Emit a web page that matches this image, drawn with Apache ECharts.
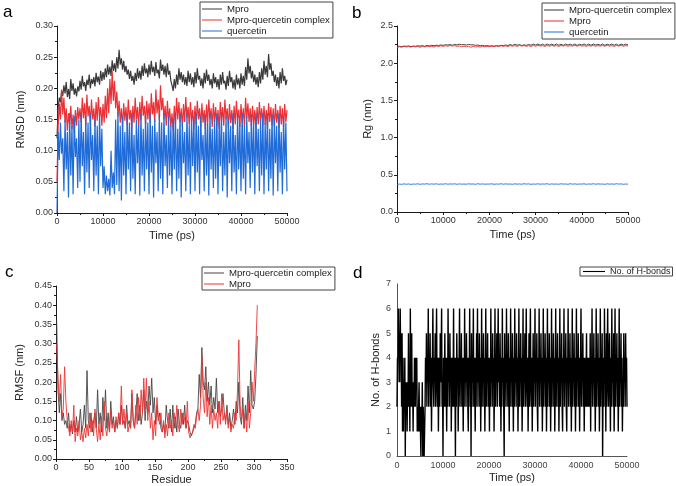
<!DOCTYPE html>
<html>
<head>
<meta charset="utf-8">
<script src="https://cdn.jsdelivr.net/npm/echarts@6/dist/echarts.min.js"></script>
<style>html,body{margin:0;padding:0;background:#fff}#c{width:676px;height:486px}</style>
</head>
<body>
<div id="c"></div>
<script>
// ---- Panel a: RMSD (nm), 0..50000 ps ----
const rmsdMpro = [
0.120,0.168,0.185,0.178,0.196,0.188,0.205,0.192,0.210,0.186,0.199,0.183,0.215,0.196,0.208,0.190,0.200,0.187,0.203,0.195,
0.212,0.198,0.220,0.203,0.210,0.196,0.214,0.205,0.222,0.200,0.215,0.207,0.218,0.203,0.225,0.210,0.219,0.206,0.228,0.212,
0.226,0.214,0.232,0.218,0.238,0.222,0.235,0.220,0.245,0.228,0.240,0.226,0.250,0.232,0.262,0.238,0.248,0.230,0.244,0.226,
0.236,0.222,0.230,0.215,0.228,0.212,0.220,0.206,0.225,0.212,0.232,0.216,0.228,0.214,0.236,0.220,0.240,0.224,0.232,0.218,
0.238,0.222,0.244,0.226,0.235,0.220,0.242,0.224,0.230,0.216,0.246,0.228,0.238,0.222,0.236,0.218,0.240,0.222,0.228,0.212,
0.205,0.196,0.215,0.200,0.222,0.206,0.232,0.214,0.226,0.210,0.222,0.206,0.218,0.204,0.228,0.210,0.224,0.206,0.218,0.202,
0.226,0.208,0.232,0.214,0.220,0.204,0.216,0.200,0.225,0.208,0.230,0.212,0.222,0.205,0.215,0.200,0.224,0.208,0.218,0.202,
0.215,0.198,0.222,0.206,0.226,0.208,0.212,0.198,0.220,0.204,0.228,0.210,0.218,0.200,0.214,0.198,0.222,0.206,0.216,0.200,
0.224,0.206,0.220,0.204,0.234,0.214,0.248,0.224,0.236,0.216,0.228,0.210,0.222,0.206,0.218,0.202,0.226,0.208,0.232,0.214,
0.244,0.222,0.236,0.218,0.255,0.230,0.240,0.220,0.228,0.210,0.222,0.204,0.218,0.200,0.226,0.208,0.232,0.212,0.220,0.205,0.214];
const rmsdComplex = [
0.050,0.140,0.175,0.150,0.198,0.158,0.185,0.145,0.168,0.132,0.160,0.142,0.172,0.135,0.158,0.128,0.165,0.140,0.170,0.150,
0.168,0.145,0.185,0.152,0.176,0.140,0.190,0.155,0.172,0.142,0.182,0.150,0.168,0.138,0.178,0.148,0.186,0.155,0.170,0.140,
0.175,0.145,0.188,0.152,0.200,0.160,0.215,0.175,0.228,0.180,0.212,0.168,0.195,0.155,0.180,0.145,0.168,0.138,0.176,0.148,
0.170,0.140,0.182,0.150,0.165,0.135,0.172,0.145,0.185,0.150,0.170,0.138,0.178,0.148,0.188,0.156,0.172,0.142,0.180,0.150,
0.176,0.145,0.192,0.158,0.178,0.146,0.198,0.160,0.182,0.150,0.205,0.165,0.185,0.150,0.172,0.140,0.180,0.148,0.168,0.138,
0.160,0.132,0.172,0.142,0.185,0.150,0.178,0.145,0.168,0.138,0.175,0.146,0.186,0.152,0.170,0.140,0.178,0.148,0.165,0.135,
0.172,0.142,0.180,0.150,0.168,0.138,0.176,0.145,0.165,0.134,0.174,0.145,0.182,0.150,0.168,0.138,0.176,0.146,0.170,0.140,
0.165,0.135,0.178,0.148,0.170,0.140,0.182,0.150,0.168,0.136,0.175,0.144,0.165,0.135,0.172,0.142,0.180,0.150,0.166,0.138,
0.175,0.145,0.168,0.138,0.185,0.152,0.176,0.146,0.168,0.138,0.172,0.142,0.165,0.135,0.170,0.142,0.178,0.148,0.168,0.140,
0.172,0.142,0.165,0.136,0.176,0.146,0.170,0.140,0.168,0.138,0.175,0.145,0.165,0.136,0.172,0.142,0.168,0.138,0.175,0.146,0.165];
const rmsdQuercetin = [
0.000,0.130,0.085,0.145,0.095,0.120,0.035,0.150,0.070,0.130,0.025,0.160,0.060,0.140,0.030,0.155,0.090,0.120,0.040,0.150,
0.050,0.160,0.075,0.130,0.030,0.155,0.065,0.145,0.040,0.160,0.085,0.125,0.035,0.150,0.060,0.140,0.030,0.158,0.075,0.135,
0.040,0.075,0.030,0.060,0.035,0.055,0.028,0.100,0.040,0.065,0.030,0.150,0.045,0.162,0.035,0.140,0.020,0.155,0.060,0.130,
0.030,0.158,0.070,0.145,0.035,0.160,0.055,0.125,0.030,0.150,0.080,0.140,0.028,0.160,0.060,0.135,0.035,0.155,0.070,0.145,
0.030,0.160,0.065,0.140,0.025,0.150,0.080,0.130,0.035,0.158,0.055,0.145,0.030,0.160,0.075,0.125,0.040,0.155,0.060,0.140,
0.030,0.150,0.070,0.160,0.035,0.135,0.055,0.158,0.025,0.145,0.080,0.130,0.035,0.160,0.060,0.140,0.030,0.155,0.075,0.150,
0.035,0.160,0.065,0.140,0.030,0.155,0.085,0.125,0.035,0.158,0.060,0.145,0.028,0.160,0.070,0.135,0.040,0.150,0.055,0.160,
0.030,0.145,0.075,0.160,0.035,0.130,0.060,0.155,0.025,0.150,0.080,0.140,0.035,0.160,0.065,0.125,0.030,0.158,0.070,0.145,
0.035,0.160,0.055,0.140,0.030,0.155,0.080,0.130,0.040,0.158,0.065,0.145,0.030,0.160,0.075,0.135,0.035,0.150,0.060,0.160,
0.030,0.145,0.070,0.160,0.035,0.135,0.055,0.158,0.028,0.150,0.080,0.140,0.035,0.160,0.065,0.130,0.030,0.155,0.070,0.145,0.035];

// ---- Panel b: Rg (nm) ----
const rgComplex = [2.225,2.228,2.222,2.230,2.226,2.232,2.224,2.229,2.227,2.234,2.230,2.236,2.228,2.238,2.232,2.240,2.235,2.242,2.238,2.245,2.240,2.248,2.244,2.250,2.242,2.252,2.246,2.255,2.248,2.250,2.244,2.252,2.246,2.248,2.240,2.244,2.236,2.240,2.232,2.236,2.230,2.234,2.228,2.236,2.232,2.240,2.236,2.244,2.238,2.250,2.240,2.255,2.242,2.250,2.238,2.246,2.240,2.252,2.242,2.256,2.244,2.258,2.242,2.255,2.240,2.258,2.244,2.256,2.240,2.258,2.242,2.255,2.240,2.258,2.244,2.256,2.242,2.258,2.240,2.255,2.244,2.258,2.242,2.256,2.240,2.258,2.244,2.255,2.242,2.258,2.240,2.256,2.244,2.258,2.242,2.255,2.240,2.258,2.244,2.256,2.246];
const rgMpro = [2.205,2.222,2.215,2.226,2.218,2.224,2.216,2.228,2.220,2.225,2.214,2.226,2.218,2.230,2.222,2.228,2.216,2.232,2.224,2.234,2.226,2.236,2.228,2.238,2.230,2.236,2.226,2.232,2.222,2.230,2.220,2.226,2.214,2.228,2.218,2.224,2.216,2.226,2.220,2.228,2.222,2.230,2.224,2.232,2.222,2.236,2.226,2.234,2.224,2.238,2.228,2.236,2.226,2.240,2.230,2.238,2.226,2.236,2.224,2.238,2.228,2.240,2.230,2.236,2.226,2.238,2.228,2.240,2.230,2.236,2.226,2.238,2.230,2.240,2.228,2.236,2.230,2.238,2.228,2.240,2.230,2.236,2.226,2.238,2.230,2.240,2.228,2.236,2.230,2.238,2.228,2.240,2.230,2.236,2.226,2.238,2.230,2.240,2.228,2.236,2.232];
const rgQuercetin = [0.370,0.375,0.372,0.378,0.373,0.377,0.371,0.376,0.374,0.379,0.372,0.377,0.375,0.380,0.373,0.378,0.374,0.379,0.372,0.376,0.374,0.380,0.373,0.377,0.375,0.379,0.372,0.378,0.374,0.376,0.373,0.379,0.375,0.377,0.372,0.380,0.374,0.378,0.373,0.376,0.375,0.379,0.372,0.377,0.374,0.380,0.373,0.378,0.375,0.376,0.372,0.379,0.374,0.377,0.373,0.380,0.375,0.378,0.372,0.376,0.374,0.379,0.373,0.377,0.375,0.380,0.372,0.378,0.374,0.376,0.373,0.379,0.375,0.377,0.372,0.380,0.374,0.378,0.373,0.376,0.375,0.379,0.372,0.377,0.374,0.380,0.373,0.378,0.375,0.376,0.372,0.379,0.374,0.377,0.373,0.380,0.375,0.378,0.372,0.376,0.374];

// ---- Panel c: RMSF (nm) per residue, residues 1,3,5,...,305 ----
const rmsfComplex = [0.36,0.18,0.12,0.17,0.10,0.12,0.09,0.10,0.08,0.12,0.07,0.09,0.065,0.10,0.07,0.11,0.07,0.09,0.13,0.07,0.09,0.14,0.08,0.23,0.10,0.08,0.12,0.07,0.10,0.12,0.08,0.18,0.09,0.12,0.07,0.16,0.10,0.18,0.08,0.12,0.07,0.15,0.09,0.11,0.07,0.10,0.08,0.12,0.09,0.14,0.09,0.10,0.08,0.14,0.09,0.10,0.08,0.17,0.10,0.08,0.12,0.17,0.10,0.14,0.09,0.12,0.18,0.10,0.15,0.12,0.19,0.14,0.21,0.12,0.16,0.09,0.14,0.10,0.12,0.08,0.07,0.09,0.07,0.14,0.10,0.08,0.13,0.07,0.14,0.08,0.11,0.07,0.13,0.09,0.08,0.12,0.09,0.14,0.08,0.10,0.09,0.07,0.06,0.065,0.08,0.09,0.12,0.13,0.22,0.16,0.29,0.20,0.18,0.24,0.15,0.20,0.14,0.19,0.12,0.16,0.13,0.21,0.12,0.15,0.11,0.13,0.17,0.12,0.10,0.14,0.09,0.12,0.08,0.10,0.13,0.09,0.15,0.12,0.20,0.11,0.09,0.16,0.08,0.14,0.10,0.19,0.12,0.23,0.14,0.13,0.15,0.22,0.32];
const rmsfMpro = [0.30,0.21,0.15,0.22,0.11,0.13,0.24,0.15,0.10,0.08,0.06,0.10,0.07,0.14,0.045,0.08,0.06,0.10,0.05,0.07,0.045,0.08,0.055,0.09,0.06,0.12,0.07,0.10,0.06,0.13,0.08,0.045,0.09,0.05,0.11,0.06,0.15,0.08,0.06,0.10,0.07,0.13,0.08,0.10,0.07,0.11,0.08,0.12,0.09,0.19,0.09,0.13,0.08,0.12,0.07,0.09,0.08,0.18,0.10,0.08,0.14,0.09,0.16,0.10,0.18,0.12,0.21,0.13,0.21,0.10,0.15,0.08,0.12,0.05,0.10,0.06,0.16,0.11,0.09,0.12,0.07,0.10,0.055,0.09,0.06,0.12,0.08,0.10,0.06,0.12,0.08,0.14,0.09,0.07,0.13,0.09,0.12,0.10,0.08,0.15,0.07,0.055,0.05,0.07,0.09,0.08,0.11,0.13,0.10,0.14,0.27,0.16,0.12,0.20,0.11,0.16,0.09,0.14,0.08,0.13,0.10,0.12,0.08,0.15,0.09,0.17,0.10,0.12,0.09,0.13,0.08,0.11,0.07,0.09,0.08,0.12,0.10,0.18,0.31,0.14,0.10,0.13,0.08,0.12,0.07,0.15,0.08,0.12,0.20,0.15,0.23,0.30,0.40];

// ---- Panel d: number of H-bonds, every 100 ps ----
const hbonds = [
2,4,3,6,4,5,3,6,4,5,2,5,1,4,1,3,2,4,0,3,
2,3,1,3,2,5,2,3,1,6,2,3,5,2,3,1,3,2,4,3,
2,4,3,4,1,2,1,2,3,1,2,1,0,2,1,3,0,2,1,0,
1,2,4,3,5,2,4,3,6,2,4,3,5,2,4,1,3,4,6,3,
2,4,3,5,2,4,6,3,2,4,1,3,4,2,5,3,4,6,2,3,
0,4,2,3,5,2,4,3,1,4,2,6,3,4,2,5,3,4,1,3,
4,2,3,6,2,4,3,0,4,2,5,3,4,1,3,4,6,2,4,3,
5,2,4,3,1,4,2,6,3,4,2,5,3,4,2,1,4,3,6,2,
4,0,5,2,4,3,6,2,4,3,1,4,2,5,3,6,2,4,3,5,
2,4,1,3,6,2,4,3,5,2,4,1,3,6,2,4,3,5,2,4,
3,1,4,2,6,3,4,2,5,3,4,1,3,6,2,4,3,5,2,4,
6,3,4,2,5,3,1,4,2,6,3,4,2,0,5,3,4,2,6,3,
4,2,5,3,1,4,2,6,3,4,2,5,3,1,4,2,6,3,4,2,
5,3,4,1,3,6,2,4,3,5,2,4,1,3,6,2,4,3,5,2,
4,6,3,2,4,1,3,5,2,4,6,3,2,4,1,3,5,2,4,3,
6,2,4,3,5,2,1,4,3,6,2,4,3,5,2,4,1,3,6,2,
4,3,5,2,4,1,3,6,2,4,3,5,2,4,1,3,6,2,4,3,
5,2,4,1,3,6,2,4,3,5,2,4,1,3,6,2,4,3,5,2,
1,4,3,6,2,4,3,5,2,1,4,3,6,2,4,3,5,2,4,1,
3,6,2,4,3,5,2,4,1,3,6,2,4,3,5,2,4,1,3,4,
6,2,4,3,5,2,4,1,3,4,2,3,5,2,4,3,2,4,3,2,
5,1,4,3,6,2,4,3,5,2,4,1,3,6,2,4,3,5,2,4,
1,3,6,2,4,3,5,0,3,4,2,6,3,4,1,5,2,4,6,3,
2,4,5,3,1,4,2,6,3,4,2,5,1,3,6,2,4,3,5,2,
4,1,3,6,2,4,3,5,2,4,1,3,2,5,3,4,2,5,3,4,2];

const timeEnd = 50000;
function overTime(arr){ const n = arr.length; return arr.map((v,i)=>[i*timeEnd/(n-1), v]); }
function overResidue(arr){ return arr.map((v,i)=>[1+2*i, v]); }

const FONT = 'Liberation Sans, Arial, sans-serif';
const AX = '#1a1a1a';

function valAxis(gi, opt){
  return Object.assign({
    type:'value', gridIndex: gi,
    axisLine:{show:true, onZero:false, lineStyle:{color:AX, width:1}},
    axisTick:{show:true, inside:false, length:3, lineStyle:{color:AX}},
    minorTick:{show:true, splitNumber:2, length:2, lineStyle:{color:AX}},
    splitLine:{show:false}, minorSplitLine:{show:false},
    axisLabel:{fontSize:9, color:'#333', fontFamily:FONT, margin:4},
    nameLocation:'middle',
    nameTextStyle:{fontSize:11, color:'#222', fontFamily:FONT}
  }, opt);
}
const timeFmt = v => String(v);

function lineSeries(name, xi, yi, data, color, w){
  return {type:'line', name, xAxisIndex:xi, yAxisIndex:yi, data, showSymbol:false, symbol:'none',
    lineStyle:{color, width:w||0.8}, itemStyle:{color}, animation:false, silent:true};
}

const lineIcon = 'path://M0,0H20V1H0Z';
function legendCfg(opt){
  return Object.assign({
    orient:'vertical', icon:lineIcon, itemWidth:20, itemHeight:11, itemGap:1,
    borderColor:'#444', borderWidth:1, borderRadius:0, padding:[2,3,2,2],
    textStyle:{fontSize:9.6, color:'#222', fontFamily:FONT},
    formatter: n => n.split('|')[1], selectedMode:false
  }, opt);
}

const chart = echarts.init(document.getElementById('c'), null, {renderer:'canvas'});
chart.setOption({
  animation:false,
  backgroundColor:'#fff',
  grid:[
    {left:57, top:26, width:230, height:187},
    {left:397, top:26, width:231, height:186},
    {left:56, top:286, width:231, height:173},
    {left:397, top:284, width:230, height:172}
  ],
  xAxis:[
    valAxis(0,{min:0,max:50000,interval:10000,name:'Time (ps)',nameGap:17, axisLabel:{fontSize:9,color:'#333',fontFamily:FONT,margin:4,formatter:timeFmt}}),
    valAxis(1,{min:0,max:50000,interval:10000,name:'Time (ps)',nameGap:17, axisLabel:{fontSize:9,color:'#333',fontFamily:FONT,margin:4,formatter:timeFmt}}),
    valAxis(2,{min:0,max:350,interval:50,name:'Residue',nameGap:15, axisLabel:{fontSize:9,color:'#333',fontFamily:FONT,margin:4}}),
    valAxis(3,{min:0,max:50000,interval:10000,name:'Time (ps)',nameGap:16, minorTick:{show:false},
      axisLine:{show:true,onZero:false,lineStyle:{color:'#555',width:1}}, axisTick:{show:false},
      axisLabel:{fontSize:9,color:'#444',fontFamily:FONT,margin:5,formatter:timeFmt}})
  ],
  yAxis:[
    valAxis(0,{min:0,max:0.30,interval:0.05,name:'RMSD (nm)',nameGap:31, axisLabel:{fontSize:9,color:'#333',fontFamily:FONT,margin:4,formatter:v=>v.toFixed(2)}}),
    valAxis(1,{min:0,max:2.5,interval:0.5,name:'Rg (nm)',nameGap:24, axisLabel:{fontSize:9,color:'#333',fontFamily:FONT,margin:4,formatter:v=>v.toFixed(1)}}),
    valAxis(2,{min:0,max:0.45,interval:0.05,name:'RMSF (nm)',nameGap:31, axisLabel:{fontSize:9,color:'#333',fontFamily:FONT,margin:4,formatter:v=>v.toFixed(2)}}),
    valAxis(3,{min:0,max:7,interval:1,name:'No. of H-bonds',nameGap:16, minorTick:{show:false},
      axisLine:{show:true,onZero:false,lineStyle:{color:'#555',width:1}}, axisTick:{show:false},
      axisLabel:{fontSize:9,color:'#444',fontFamily:FONT,margin:6}})
  ],
  legend:[
    legendCfg({left:200, top:2, data:['a|Mpro','a|Mpro-quercetin complex','a|quercetin']}),
    legendCfg({left:542, top:3, data:['b|Mpro-quercetin complex','b|Mpro','b|quercetin']}),
    legendCfg({left:202, top:267, itemHeight:10, padding:[1,3,1,2], data:['c|Mpro-quercetin complex','c|Mpro']}),
    legendCfg({left:580, top:267, itemHeight:8, itemWidth:22, padding:[0,2,0,3], textStyle:{fontSize:9,color:'#222',fontFamily:FONT}, data:['d|No. of H-bonds']})
  ],
  graphic:[
    {type:'text', left:3, top:4, style:{text:'a', fontSize:17, fill:'#000', fontFamily:FONT}},
    {type:'text', left:352, top:5, style:{text:'b', fontSize:17, fill:'#000', fontFamily:FONT}},
    {type:'text', left:5, top:264, style:{text:'c', fontSize:17, fill:'#000', fontFamily:FONT}},
    {type:'text', left:353, top:265, style:{text:'d', fontSize:17, fill:'#000', fontFamily:FONT}}
  ],
  series:[
    lineSeries('a|Mpro',0,0,overTime(rmsdMpro),'#3a3a3a',1.2),
    lineSeries('a|Mpro-quercetin complex',0,0,overTime(rmsdComplex),'#ec3035',1.2),
    lineSeries('a|quercetin',0,0,overTime(rmsdQuercetin),'#1f6bd8',1.2),
    lineSeries('b|Mpro-quercetin complex',1,1,overTime(rgComplex),'#333333',0.9),
    lineSeries('b|Mpro',1,1,overTime(rgMpro),'#ec2b2b',0.9),
    lineSeries('b|quercetin',1,1,overTime(rgQuercetin),'#1f6fe0',0.9),
    lineSeries('c|Mpro-quercetin complex',2,2,overResidue(rmsfComplex),'#444444',0.9),
    lineSeries('c|Mpro',2,2,overResidue(rmsfMpro),'#ee3333',0.9),
    lineSeries('d|No. of H-bonds',3,3,overTime(hbonds),'#000000',1.4)
  ]
});
</script>
</body>
</html>
